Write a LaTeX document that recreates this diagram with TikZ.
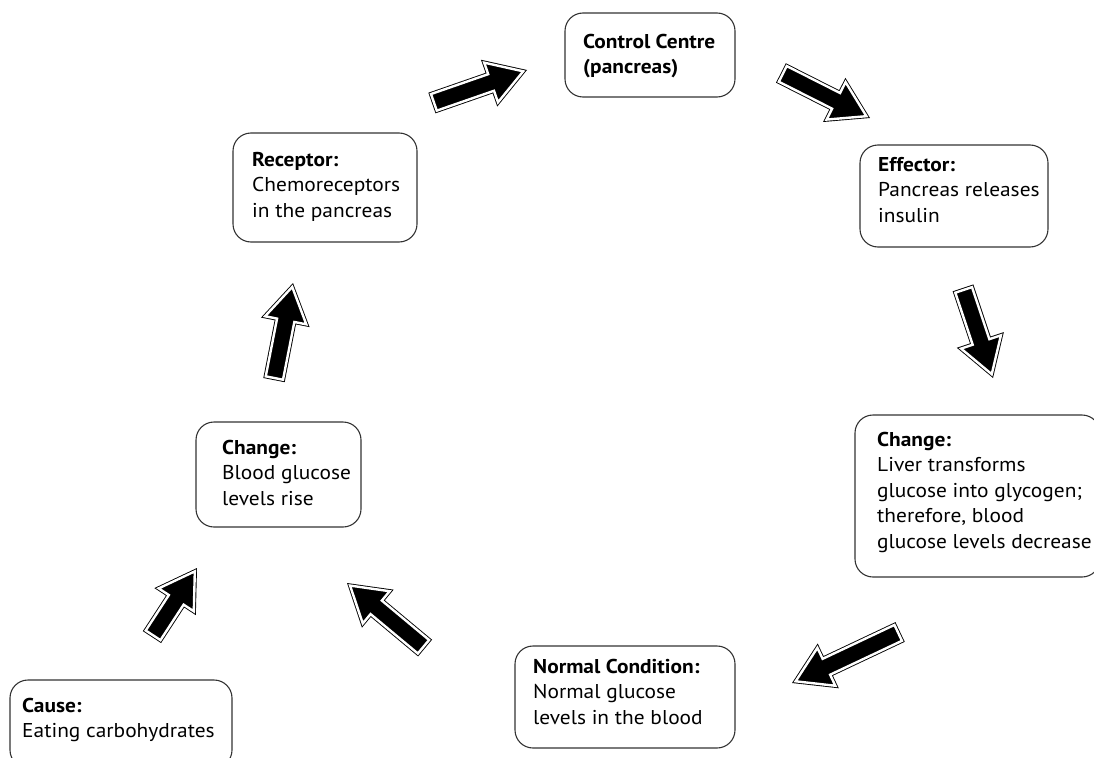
\documentclass[tikz,border=0pt]{standalone}
\usepackage{fontspec}
\setmainfont{PT Sans}[FakeStretch=1.07]
\usetikzlibrary{calc}
\newcommand\blockarrow[2]{%
  \draw[blockarr] let \p1=($(#2)-(#1)$), \n1={atan2(\y1,\x1)}, \n2={veclen(\x1,\y1)-40} in
    ($(#1)+(\n1:2pt)+(\n1+90:8.8pt)$) -- ++(\n1:\n2) -- ++(\n1+90:12.2pt)
    -- ($(#2)+(\n1+180:4pt)$)
    -- ($(#1)+(\n1:2pt)+(\n1:\n2)+(\n1-90:21pt)$) -- ++(\n1+90:12.2pt)
    -- ++(\n1+180:\n2) -- cycle;
}
\begin{document}
\begin{tikzpicture}[x=1pt,y=-1pt,
  box/.style={draw=black!80, line width=1.1pt, rounded corners=18pt, inner sep=0pt},
  lbl/.style={anchor=north west, inner sep=0pt, align=left, font=\fontsize{20}{25.5}\selectfont},
  blockarr/.style={fill=black, draw=black, double=white, double distance=2.4pt, line width=0.9pt, line join=miter}]
\useasboundingbox (0,0) rectangle (1094,757);
% boxes
\node[box, minimum width=170pt, minimum height=84pt] (cc) at (650,55) {};
\node[box, minimum width=184pt, minimum height=109pt] (rec) at (325,187.5) {};
\node[box, minimum width=188pt, minimum height=102pt] (eff) at (954,196) {};
\node[box, minimum width=245pt, minimum height=162pt] (chr) at (977.5,496) {};
\node[box, minimum width=220pt, minimum height=102pt] (norm) at (625,697) {};
\node[box, minimum width=165pt, minimum height=105pt] (chl) at (278.5,474.5) {};
\node[box, minimum width=222pt, minimum height=88pt] (cause) at (121,724) {};
% texts
\node[lbl] (cc-t) at (583,30.15) {\strut\textbf{Control Centre}\\\textbf{(pancreas)}};
\node[lbl] (rec-t) at (252,148.15) {\strut\textbf{Receptor:}\\Chemoreceptors\\in the pancreas};
\node[lbl] (eff-t) at (878,153.15) {\strut\textbf{Effector:}\\Pancreas releases\\insulin};
\node[lbl] (chr-t) at (877,428.15) {\strut\textbf{Change:}\\Liver transforms\\glucose into glycogen;\\therefore, blood\\glucose levels decrease};
\node[lbl] (norm-t) at (533,655.15) {\strut\textbf{Normal Condition:}\\Normal glucose\\levels in the blood};
\node[lbl] (chl-t) at (222,436.15) {\strut\textbf{Change:}\\Blood glucose\\levels rise};
\node[lbl] (cause-t) at (22,694.15) {\strut\textbf{Cause:}\\Eating carbohydrates};
% arrows
\coordinate (a1t) at (432,103); \coordinate (a1h) at (527,70);
\coordinate (a2t) at (781,73);  \coordinate (a2h) at (870,118);
\coordinate (a3t) at (963,288); \coordinate (a3h) at (993,378);
\coordinate (a4t) at (900,632); \coordinate (a4h) at (792,683);
\coordinate (a5t) at (425,648); \coordinate (a5h) at (347,583);
\coordinate (a6t) at (152,637); \coordinate (a6h) at (197,568);
\coordinate (a7t) at (274,380); \coordinate (a7h) at (293,283);
\blockarrow{a1t}{a1h}
\blockarrow{a2t}{a2h}
\blockarrow{a3t}{a3h}
\blockarrow{a4t}{a4h}
\blockarrow{a5t}{a5h}
\blockarrow{a6t}{a6h}
\blockarrow{a7t}{a7h}
\end{tikzpicture}
\end{document}
